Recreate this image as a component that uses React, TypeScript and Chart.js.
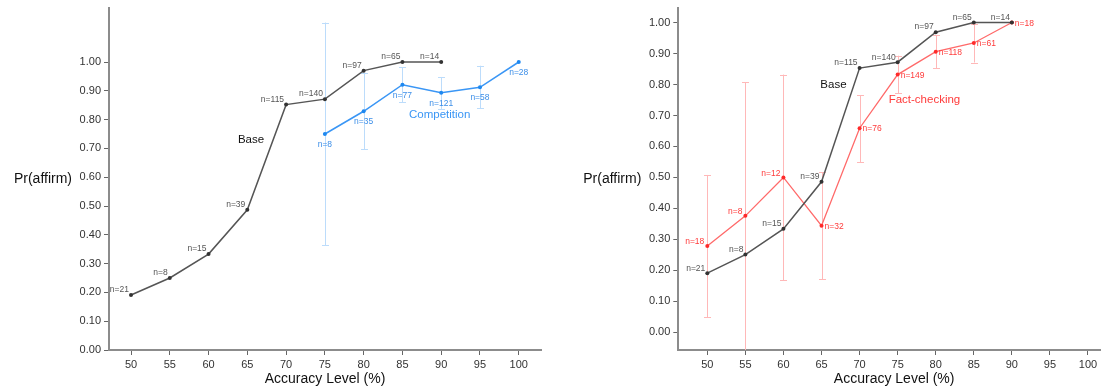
import { useEffect, useRef } from 'react';
import { Chart, registerables } from 'chart.js';

Chart.register(...registerables);

// ---------- data ----------
const accuracyLevels = [50, 55, 60, 65, 70, 75, 80, 85, 90, 95, 100];
const xTickValues = [50, 55, 60, 65, 70, 75, 80, 85, 90, 95, 100];
const yTickValues = [0, 0.1, 0.2, 0.3, 0.4, 0.5, 0.6, 0.7, 0.8, 0.9, 1.0];

// Left panel: Base vs Competition
const baseLeftValues = [0.191, 0.25, 0.333, 0.487, 0.852, 0.871, 0.97, 1.0, 1.0, null, null];
const baseLeftN = ['n=21', 'n=8', 'n=15', 'n=39', 'n=115', 'n=140', 'n=97', 'n=65', 'n=14', null, null];

const competitionValues = [null, null, null, null, null, 0.75, 0.829, 0.921, 0.893, 0.912, 1.0];
const competitionLow = [null, null, null, null, null, 0.363, 0.697, 0.861, 0.837, 0.839, null];
const competitionHigh = [null, null, null, null, null, 1.137, 0.963, 0.981, 0.948, 0.987, null];
const competitionN = [null, null, null, null, null, 'n=8', 'n=35', 'n=77', 'n=121', 'n=58', 'n=28'];

// Right panel: Base vs Fact-checking
const baseRightValues = [0.191, 0.251, 0.334, 0.486, 0.853, 0.872, 0.969, 1.0, 1.0, null, null];
const baseRightN = ['n=21', 'n=8', 'n=15', 'n=39', 'n=115', 'n=140', 'n=97', 'n=65', 'n=14', null, null];

const factValues = [0.279, 0.376, 0.5, 0.344, 0.659, 0.832, 0.906, 0.934, 1.0, null, null];
const factLow = [0.049, -0.06, 0.168, 0.171, 0.549, 0.772, 0.853, 0.871, null, null, null];
const factHigh = [0.508, 0.807, 0.832, 0.516, 0.766, 0.893, 0.96, 0.996, null, null, null];
const factN = ['n=18', 'n=8', 'n=12', 'n=32', 'n=76', 'n=149', 'n=118', 'n=61', 'n=18', null, null];

// ---------- helpers ----------
const FONT = '"Liberation Sans", Arial, Helvetica, sans-serif';

type Pt = { x: number; y: number; n: string | null; lo: number | null; hi: number | null };

function buildPoints(
  values: (number | null)[],
  labels: (string | null)[],
  low?: (number | null)[],
  high?: (number | null)[]
): Pt[] {
  const out: Pt[] = [];
  accuracyLevels.forEach((x, i) => {
    const y = values[i];
    if (y === null || y === undefined) return;
    out.push({
      x,
      y,
      n: labels[i] ?? null,
      lo: low ? low[i] ?? null : null,
      hi: high ? high[i] ?? null : null,
    });
  });
  return out;
}

const errorBarPlugin = {
  id: 'errorBars',
  beforeDatasetsDraw(chart: any) {
    const { ctx, chartArea } = chart;
    const xs = chart.scales.x;
    const ys = chart.scales.y;
    ctx.save();
    ctx.beginPath();
    ctx.rect(chartArea.left, chartArea.top, chartArea.right - chartArea.left, chartArea.bottom - chartArea.top);
    ctx.clip();
    chart.data.datasets.forEach((ds: any) => {
      if (!ds.errColor) return;
      ctx.strokeStyle = ds.errColor;
      ctx.lineWidth = 1;
      (ds.data as Pt[]).forEach((p) => {
        if (p.lo === null || p.hi === null) return;
        const px = Math.round(xs.getPixelForValue(p.x)) + 0.5;
        const yl = ys.getPixelForValue(p.lo);
        const yh = ys.getPixelForValue(p.hi);
        ctx.beginPath();
        ctx.moveTo(px, yl);
        ctx.lineTo(px, yh);
        ctx.moveTo(px - 3.5, Math.round(yl) + 0.5);
        ctx.lineTo(px + 3.5, Math.round(yl) + 0.5);
        ctx.moveTo(px - 3.5, Math.round(yh) + 0.5);
        ctx.lineTo(px + 3.5, Math.round(yh) + 0.5);
        ctx.stroke();
      });
    });
    ctx.restore();
  },
};

const nLabelPlugin = {
  id: 'nLabels',
  afterDatasetsDraw(chart: any) {
    const { ctx } = chart;
    chart.data.datasets.forEach((ds: any, di: number) => {
      const meta = chart.getDatasetMeta(di);
      ctx.save();
      ctx.font = `8.5px ${FONT}`;
      ctx.fillStyle = ds.nColor;
      (ds.data as Pt[]).forEach((p, i) => {
        if (!p.n) return;
        const el = meta.data[i];
        const place = ds.nPlace(p.x);
        let tx = el.x;
        let ty = el.y;
        if (place === 'aboveLeft') {
          ctx.textAlign = 'right';
          ctx.textBaseline = 'middle';
          tx = el.x - 2;
          ty = el.y - 5;
        } else if (place === 'below') {
          ctx.textAlign = 'center';
          ctx.textBaseline = 'middle';
          ty = el.y + 10.5;
        } else if (place === 'leftUp') {
          ctx.textAlign = 'right';
          ctx.textBaseline = 'middle';
          tx = el.x - 3;
          ty = el.y - 4;
        } else {
          ctx.textAlign = 'left';
          ctx.textBaseline = 'middle';
          tx = el.x + 3;
          ty = el.y + 0.7;
        }
        ctx.fillText(p.n, tx, ty);
      });
      ctx.restore();
    });
  },
};

const textPlugin = {
  id: 'panelTexts',
  afterDraw(chart: any, _args: any, opts: any) {
    const { ctx, chartArea } = chart;
    const xs = chart.scales.x;
    const ys = chart.scales.y;
    ctx.save();
    // series names
    (opts.notes || []).forEach((n: any) => {
      ctx.font = `11.5px ${FONT}`;
      ctx.fillStyle = n.color;
      ctx.textAlign = 'center';
      ctx.textBaseline = 'middle';
      ctx.fillText(n.text, xs.getPixelForValue(n.x), ys.getPixelForValue(n.y));
    });
    // axis titles
    ctx.font = `14px ${FONT}`;
    ctx.fillStyle = '#111';
    ctx.textAlign = 'center';
    ctx.textBaseline = 'middle';
    ctx.fillText(opts.xTitle, (chartArea.left + chartArea.right) / 2, chartArea.bottom + 29);
    ctx.textAlign = 'right';
    ctx.fillText(opts.yTitle, chartArea.left - 37, (chartArea.top + chartArea.bottom) / 2);
    ctx.restore();
  },
};

function makeConfig(p: {
  datasets: any[];
  xMin: number;
  xMax: number;
  yMin: number;
  yMax: number;
  yAxisWidth: number;
  padTop: number;
  padRight: number;
  notes: any[];
}): any {
  return {
    type: 'line',
    data: { datasets: p.datasets },
    options: {
      animation: false,
      responsive: false,
      devicePixelRatio: 1,
      layout: { padding: { top: p.padTop, right: p.padRight, left: 0, bottom: 0 } },
      plugins: {
        legend: { display: false },
        tooltip: { enabled: false },
        panelTexts: {
          notes: p.notes,
          xTitle: 'Accuracy Level (%)',
          yTitle: 'Pr(affirm)',
        },
      },
      scales: {
        x: {
          type: 'linear',
          min: p.xMin,
          max: p.xMax,
          afterBuildTicks: (s: any) => {
            s.ticks = xTickValues.map((v) => ({ value: v }));
          },
          afterFit: (s: any) => {
            s.height = 39;
            s.paddingLeft = 0;
            s.paddingRight = 0;
            s.paddingTop = 0;
            s.paddingBottom = 0;
          },
          grid: { drawOnChartArea: false, drawTicks: true, tickLength: 5, color: '#666', lineWidth: 1 },
          border: { display: true, color: '#8c8c8c', width: 2 },
          ticks: {
            font: { family: FONT, size: 11 },
            color: '#333',
            padding: 3,
            maxRotation: 0,
            autoSkip: false,
            callback: (v: any) => String(v),
          },
        },
        y: {
          type: 'linear',
          min: p.yMin,
          max: p.yMax,
          afterBuildTicks: (s: any) => {
            s.ticks = yTickValues.map((v) => ({ value: v }));
          },
          afterFit: (s: any) => {
            s.width = p.yAxisWidth;
            s.paddingLeft = 0;
            s.paddingRight = 0;
            s.paddingTop = 0;
            s.paddingBottom = 0;
          },
          grid: { drawOnChartArea: false, drawTicks: true, tickLength: 5, color: '#666', lineWidth: 1 },
          border: { display: true, color: '#8c8c8c', width: 2 },
          ticks: {
            font: { family: FONT, size: 11 },
            color: '#333',
            padding: 3,
            autoSkip: false,
            callback: (v: any) => Number(v).toFixed(2),
          },
        },
      },
    },
    plugins: [errorBarPlugin, nLabelPlugin, textPlugin],
  };
}

function baseDataset(values: (number | null)[], labels: (string | null)[]) {
  return {
    data: buildPoints(values, labels),
    parsing: { xAxisKey: 'x', yAxisKey: 'y' },
    borderColor: '#555',
    borderWidth: 1.5,
    pointRadius: 2,
    pointBackgroundColor: '#333',
    pointBorderWidth: 0,
    tension: 0,
    nColor: '#555',
    nPlace: () => 'aboveLeft',
  };
}

export default function App() {
  const leftRef = useRef<HTMLCanvasElement | null>(null);
  const rightRef = useRef<HTMLCanvasElement | null>(null);

  useEffect(() => {
    const left = new Chart(
      leftRef.current as HTMLCanvasElement,
      makeConfig({
        datasets: [
          baseDataset(baseLeftValues, baseLeftN),
          {
            data: buildPoints(competitionValues, competitionN, competitionLow, competitionHigh),
            parsing: { xAxisKey: 'x', yAxisKey: 'y' },
            borderColor: '#3a96f5',
            borderWidth: 1.5,
            pointRadius: 2,
            pointBackgroundColor: '#1e88f0',
            pointBorderWidth: 0,
            tension: 0,
            errColor: '#bcdcfb',
            nColor: '#3d8fe8',
            nPlace: () => 'below',
          },
        ],
        xMin: 47.163,
        xMax: 102.87,
        yMin: 0,
        yMax: 1.1875,
        yAxisWidth: 109,
        padTop: 8,
        padRight: 9,
        notes: [
          { text: 'Base', x: 65.48, y: 0.729, color: '#111' },
          { text: 'Competition', x: 89.8, y: 0.817, color: '#3a96f5' },
        ],
      })
    );

    const right = new Chart(
      rightRef.current as HTMLCanvasElement,
      makeConfig({
        datasets: [
          baseDataset(baseRightValues, baseRightN),
          {
            data: buildPoints(factValues, factN, factLow, factHigh),
            parsing: { xAxisKey: 'x', yAxisKey: 'y' },
            borderColor: '#ff6a6a',
            borderWidth: 1.3,
            pointRadius: 2,
            pointBackgroundColor: '#ff2a2a',
            pointBorderWidth: 0,
            tension: 0,
            errColor: '#ffb8b8',
            nColor: '#ff3b3b',
            nPlace: (x: number) => (x < 65 ? 'leftUp' : 'right'),
          },
        ],
        xMin: 46.19,
        xMax: 102.89,
        yMin: -0.057,
        yMax: 1.046,
        yAxisWidth: 128.3,
        padTop: 8.3,
        padRight: 10,
        notes: [
          { text: 'Base', x: 66.57, y: 0.798, color: '#111' },
          { text: 'Fact-checking', x: 78.52, y: 0.749, color: '#ff3b3b' },
        ],
      })
    );

    return () => {
      left.destroy();
      right.destroy();
    };
  }, []);

  return (
    <div
      style={{
        position: 'fixed',
        left: 0,
        top: 0,
        width: 1101,
        height: 389,
        overflow: 'hidden',
        background: '#fff',
      }}
    >
      <canvas
        ref={leftRef}
        width={550}
        height={389}
        style={{ position: 'absolute', left: 0, top: 0, width: 550, height: 389 }}
      />
      <canvas
        ref={rightRef}
        width={570}
        height={389}
        style={{ position: 'absolute', left: 550, top: 0, width: 570, height: 389 }}
      />
    </div>
  );
}
